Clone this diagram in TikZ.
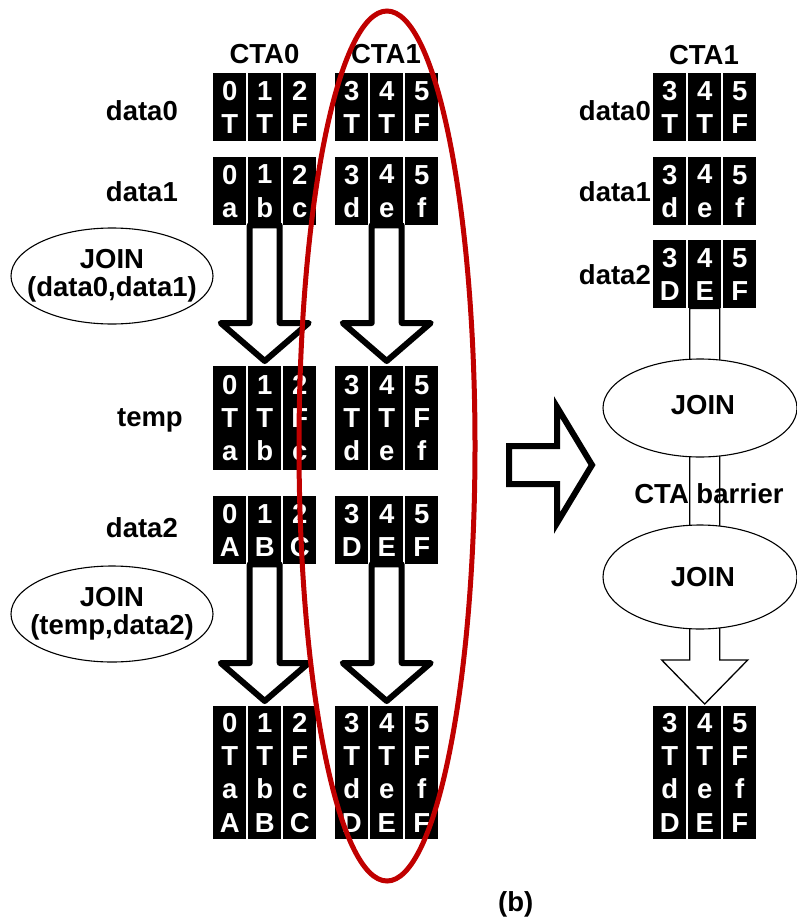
\documentclass[tikz,border=0pt]{standalone}
\usepackage{fontspec}
\setmainfont{Liberation Sans}
\usetikzlibrary{calc,shapes.geometric}

\pgfdeclarelayer{under}
\pgfsetlayers{under,main}

\newcommand\cellfont{\fontsize{27.5}{33.3}\selectfont\bfseries}
\newcommand\lblfont{\fontsize{27.5}{28}\selectfont\bfseries}

% one row of three black cells, 33pt wide on a 35pt pitch
\newcommand\cellrow[7]{%
  \node[cellbox,minimum height=#4] (#1-1) at (#2,#3) {#5};
  \node[cellbox,minimum height=#4] (#1-2) at (#2+35,#3) {#6};
  \node[cellbox,minimum height=#4] (#1-3) at (#2+70,#3) {#7};
}

% hollow block arrow from the middle cell of one row to the middle cell of the next
\newcommand\fatarrow[2]{%
  \draw[fatarrowstyle] let \p1=(#1-2.south), \p2=(#2-2.north) in
    (\x1-15,\y1) -- (\x1-15,\y2+43) -- (\x1-44,\y2+43) -- (\x1,\y2+5)
    -- (\x1+44,\y2+43) -- (\x1+15,\y2+43) -- (\x1+15,\y1) -- cycle;
}

\begin{document}
\begin{tikzpicture}[x=1pt,y=-1pt,
  cellbox/.style={fill=black,text=white,inner sep=0pt,minimum width=33pt,
    font=\cellfont,align=center,anchor=north west},
  lbl/.style={font=\lblfont,inner sep=0pt,align=center},
  joinell/.style={ellipse,draw=black,line width=1.1pt,fill=white,inner sep=0pt},
  fatarrowstyle/.style={draw=black,fill=white,line width=6pt,line join=round},
  thinarrowstyle/.style={draw=black,fill=white,line width=1.3pt,line join=miter},
  redring/.style={draw={rgb,255:red,192;green,0;blue,0},line width=5pt}]

\useasboundingbox (0,0) rectangle (796,917);

% ---- cells ----
\cellrow{a0}{213}{73}{68pt}{0\\T}{1\\T}{2\\F}
\cellrow{a1}{213}{157}{68pt}{0\\a}{1\\b}{2\\c}
\cellrow{at}{213}{366}{104pt}{0\\T\\a}{1\\T\\b}{2\\F\\c}
\cellrow{a2}{213}{496}{68pt}{0\\A}{1\\B}{2\\C}
\cellrow{af}{213}{706}{133pt}{0\\T\\a\\A}{1\\T\\b\\B}{2\\F\\c\\C}
\cellrow{b0}{335}{73}{68pt}{3\\T}{4\\T}{5\\F}
\cellrow{b1}{335}{157}{68pt}{3\\d}{4\\e}{5\\f}
\cellrow{bt}{335}{366}{104pt}{3\\T\\d}{4\\T\\e}{5\\F\\f}
\cellrow{b2}{335}{496}{68pt}{3\\D}{4\\E}{5\\F}
\cellrow{bf}{335}{706}{133pt}{3\\T\\d\\D}{4\\T\\e\\E}{5\\F\\f\\F}
\cellrow{q0}{653}{73}{68pt}{3\\T}{4\\T}{5\\F}
\cellrow{q1}{653}{157}{68pt}{3\\d}{4\\e}{5\\f}
\cellrow{q2}{653}{240}{68pt}{3\\D}{4\\E}{5\\F}
\cellrow{qf}{653}{706}{133pt}{3\\T\\d\\D}{4\\T\\e\\E}{5\\F\\f\\F}

\begin{pgfonlayer}{under}
  % left: per-CTA join arrows
  \fatarrow{a1}{at}
  \fatarrow{b1}{bt}
  \fatarrow{a2}{af}
  \fatarrow{b2}{bf}
  % right: fused column with a thin shaft
  \draw[thinarrowstyle] let \p1=(q2-2.south), \p2=(qf-2.north) in
    (\x1-15,\y1) -- (\x1-15,\y2+46) -- (\x1-43,\y2+46) -- (\x1,\y2+2)
    -- (\x1+43,\y2+46) -- (\x1+15,\y2+46) -- (\x1+15,\y1) -- cycle;
\end{pgfonlayer}

% ---- transformation arrow ----
\coordinate (tl) at (509,465);
\draw[fatarrowstyle,line join=miter] (tl) ++(0,-19) -- ++(48,0) -- ++(0,-39)
  -- (592,465) -- (557,523) -- ++(0,-39) -- ++(-48,0) -- cycle;

% ---- headings and row labels ----
\node[lbl] (h0) at (264.5,54) {CTA0};
\node[lbl] (h1) at (386,54) {CTA1};
\node[lbl] (h2) at (704,55) {CTA1};

\node[lbl,anchor=east] (ld0) at (178,111) {data0};
\node[lbl,anchor=east] (ld1) at (178,192) {data1};
\node[lbl,anchor=east] (ltp) at (183,420) {temp};
\node[lbl,anchor=east] (ld2) at (178,528) {data2};
\node[lbl,anchor=east] (rd0) at (651,111) {data0};
\node[lbl,anchor=east] (rd1) at (651,192) {data1};
\node[lbl,anchor=east] (rd2) at (651,275) {data2};

% ---- join operations ----
\node[joinell,minimum width=202pt,minimum height=96pt] (j1) at (112,276) {};
\node[lbl] (j1t) at (j1) {JOIN\\(data0,data1)};
\node[joinell,minimum width=202pt,minimum height=96pt] (j2) at (112,614) {};
\node[lbl] (j2t) at (j2) {JOIN\\(temp,data2)};
\node[joinell,minimum width=194pt,minimum height=98pt] (rj1) at (700,408) {};
\node[lbl] (rj1t) at (703,405) {JOIN};
\node[joinell,minimum width=194pt,minimum height=104pt] (rj2) at (700,577) {};
\node[lbl] (rj2t) at (703,577) {JOIN};
\node[lbl] (bar) at (709,494) {CTA barrier};

% ---- highlighted CTA ----
\draw[redring] (387,446) ellipse [x radius=88, y radius=435];

\node[lbl,anchor=north west] (cap) at (498,891) {(b)};
\end{tikzpicture}
\end{document}
